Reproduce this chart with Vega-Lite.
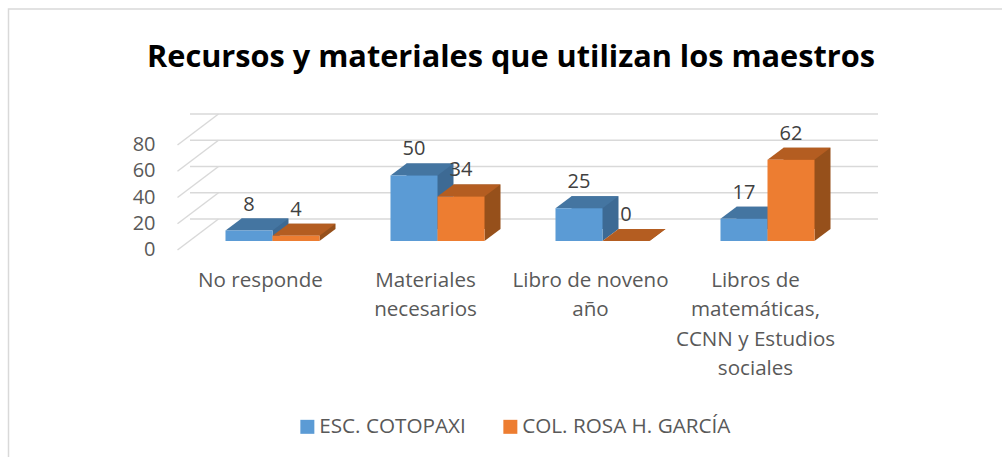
{"$schema":"https://vega.github.io/schema/vega-lite/v6.json","width":660,"height":105,"autosize":"none","padding":{"left":190,"top":136,"right":152,"bottom":216},"background":"white","config":{"font":"Open Sans","view":{"stroke":null},"axis":{"labelOverlap":false}},"title":{"text":"Recursos y materiales que utilizan los maestros","font":"Open Sans","fontSize":30.7,"fontWeight":"bold","color":"#000000","anchor":"middle","dx":-9,"offset":-68},"resolve":{"scale":{"xOffset":"independent"}},"datasets":{"valores":[{"categoria":"No responde","serie":"ESC. COTOPAXI","valor":8},{"categoria":"No responde","serie":"COL. ROSA H. GARCÍA","valor":4},{"categoria":"Materiales necesarios","serie":"ESC. COTOPAXI","valor":50},{"categoria":"Materiales necesarios","serie":"COL. ROSA H. GARCÍA","valor":34},{"categoria":"Libro de noveno año","serie":"ESC. COTOPAXI","valor":25},{"categoria":"Libro de noveno año","serie":"COL. ROSA H. GARCÍA","valor":0},{"categoria":"Libros de matemáticas, CCNN y Estudios sociales","serie":"ESC. COTOPAXI","valor":17},{"categoria":"Libros de matemáticas, CCNN y Estudios sociales","serie":"COL. ROSA H. GARCÍA","valor":62}],"marcas":[{"valor":0},{"valor":20},{"valor":40},{"valor":60},{"valor":80}],"marco":[{"valor":0}]},"data":{"name":"valores"},"layer":[{"data":{"name":"marco"},"mark":{"type":"point","shape":"M-264 216 L-264 -232 L730 -232","size":4,"fill":null,"filled":false,"stroke":"#d9d9d9","strokeWidth":1.5,"opacity":1},"encoding":{"x":{"datum":"No responde","type":"nominal"},"y":{"field":"valor","type":"quantitative","scale":{"domain":[0,80],"nice":false},"axis":null}}},{"data":{"name":"marcas"},"mark":{"type":"rule","stroke":"#d9d9d9","strokeWidth":1.5,"xOffset":28,"yOffset":-22},"encoding":{"y":{"field":"valor","type":"quantitative","axis":null}}},{"data":{"name":"marcas"},"mark":{"type":"point","shape":"M-95 9 L-54 -22","size":4,"filled":false,"stroke":"#d9d9d9","strokeWidth":1.5,"opacity":1},"encoding":{"x":{"datum":"No responde","type":"nominal"},"y":{"field":"valor","type":"quantitative","axis":null}}},{"data":{"name":"marcas"},"mark":{"type":"text","fontSize":20,"color":"#595959","align":"right","baseline":"middle","dx":-117,"dy":9,"font":"Open Sans"},"encoding":{"x":{"datum":"No responde","type":"nominal"},"y":{"field":"valor","type":"quantitative","axis":null},"text":{"field":"valor","type":"quantitative"}}},{"transform":[{"filter":"datum.serie==='ESC. COTOPAXI'"}],"mark":{"type":"bar","fill":"#3d6a94","yOffset":-12},"encoding":{"x":{"field":"categoria","type":"nominal","sort":null,"scale":{"type":"band","paddingInner":0,"paddingOuter":0},"axis":{"title":null,"domain":false,"ticks":false,"grid":false,"labelAngle":0,"labelAlign":"center","labelBaseline":"middle","labelFontSize":20.6,"labelColor":"#595959","labelPadding":39,"labelOffset":-12,"labelLineHeight":29.5,"labelOverlap":false,"labelBound":false,"labelLimit":0,"labelFont":"Open Sans","labelExpr":"datum.value==='Materiales necesarios'?['Materiales','necesarios']:datum.value==='Libro de noveno año'?['Libro de noveno','año']:datum.value==='No responde'?'No responde':['Libros de','matemáticas,','CCNN y Estudios','sociales']"}},"xOffset":{"field":"serie","sort":null,"scale":{"type":"band","domain":["ESC. COTOPAXI","COL. ROSA H. GARCÍA"],"paddingInner":0,"paddingOuter":0.755,"range":[16,181]}},"y":{"field":"valor","type":"quantitative","axis":null}}},{"transform":[{"filter":"datum.serie==='ESC. COTOPAXI'"}],"mark":{"type":"point","shape":"M23.5 0 L23.5 -12 L39.5 -12 Z","size":4,"filled":true,"fill":"#3d6a94","stroke":null,"opacity":1},"encoding":{"x":{"field":"categoria","type":"nominal","sort":null},"xOffset":{"field":"serie","sort":null,"scale":{"type":"band","domain":["ESC. COTOPAXI","COL. ROSA H. GARCÍA"],"paddingInner":0,"paddingOuter":0.755}},"y":{"datum":0,"type":"quantitative","axis":null}}},{"transform":[{"filter":"datum.serie==='ESC. COTOPAXI'"}],"mark":{"type":"point","shape":"M-23.5 0 L-7.5 -12 L39.5 -12 L23.5 0 Z","size":4,"filled":true,"fill":"#4475a1","stroke":null,"opacity":1},"encoding":{"x":{"field":"categoria","type":"nominal","sort":null},"xOffset":{"field":"serie","sort":null,"scale":{"type":"band","domain":["ESC. COTOPAXI","COL. ROSA H. GARCÍA"],"paddingInner":0,"paddingOuter":0.755}},"y":{"field":"valor","type":"quantitative","axis":null}}},{"transform":[{"filter":"datum.serie==='ESC. COTOPAXI'"}],"mark":{"type":"bar"},"encoding":{"x":{"field":"categoria","type":"nominal","sort":null},"xOffset":{"field":"serie","sort":null,"scale":{"type":"band","domain":["ESC. COTOPAXI","COL. ROSA H. GARCÍA"],"paddingInner":0,"paddingOuter":0.755}},"y":{"field":"valor","type":"quantitative","axis":null},"color":{"field":"serie","type":"nominal","sort":null,"scale":{"domain":["ESC. COTOPAXI","COL. ROSA H. GARCÍA"],"range":["#5b9bd5","#ed7d31"]},"legend":{"title":null,"orient":"none","legendX":107,"legendY":280,"direction":"horizontal","columns":2,"symbolType":"square","symbolSize":196,"symbolStrokeWidth":0,"labelFontSize":20.7,"labelColor":"#595959","labelFont":"Open Sans","columnPadding":34,"padding":0,"labelLimit":0,"labelOffset":1.5}}}},{"transform":[{"filter":"datum.serie==='COL. ROSA H. GARCÍA'"}],"mark":{"type":"bar","fill":"#96501b","yOffset":-12},"encoding":{"x":{"field":"categoria","type":"nominal","sort":null},"xOffset":{"field":"serie","sort":null,"scale":{"type":"band","domain":["ESC. COTOPAXI","COL. ROSA H. GARCÍA"],"paddingInner":0,"paddingOuter":0.755,"range":[16,181]}},"y":{"field":"valor","type":"quantitative","axis":null}}},{"transform":[{"filter":"datum.serie==='COL. ROSA H. GARCÍA'"}],"mark":{"type":"point","shape":"M23.5 0 L23.5 -12 L39.5 -12 Z","size":4,"filled":true,"fill":"#96501b","stroke":null,"opacity":1},"encoding":{"x":{"field":"categoria","type":"nominal","sort":null},"xOffset":{"field":"serie","sort":null,"scale":{"type":"band","domain":["ESC. COTOPAXI","COL. ROSA H. GARCÍA"],"paddingInner":0,"paddingOuter":0.755}},"y":{"datum":0,"type":"quantitative","axis":null}}},{"transform":[{"filter":"datum.serie==='COL. ROSA H. GARCÍA'"}],"mark":{"type":"point","shape":"M-23.5 0 L-7.5 -12 L39.5 -12 L23.5 0 Z","size":4,"filled":true,"fill":"#b45d21","stroke":null,"opacity":1},"encoding":{"x":{"field":"categoria","type":"nominal","sort":null},"xOffset":{"field":"serie","sort":null,"scale":{"type":"band","domain":["ESC. COTOPAXI","COL. ROSA H. GARCÍA"],"paddingInner":0,"paddingOuter":0.755}},"y":{"field":"valor","type":"quantitative","axis":null}}},{"transform":[{"filter":"datum.serie==='COL. ROSA H. GARCÍA'"}],"mark":{"type":"bar"},"encoding":{"x":{"field":"categoria","type":"nominal","sort":null},"xOffset":{"field":"serie","sort":null,"scale":{"type":"band","domain":["ESC. COTOPAXI","COL. ROSA H. GARCÍA"],"paddingInner":0,"paddingOuter":0.755}},"y":{"field":"valor","type":"quantitative","axis":null},"color":{"field":"serie","type":"nominal","sort":null}}},{"mark":{"type":"text","fontSize":20,"color":"#404040","baseline":"middle","align":"center","dy":-26,"font":"Open Sans"},"encoding":{"x":{"field":"categoria","type":"nominal","sort":null},"xOffset":{"field":"serie","sort":null,"scale":{"type":"band","domain":["ESC. COTOPAXI","COL. ROSA H. GARCÍA"],"paddingInner":0,"paddingOuter":0.755}},"y":{"field":"valor","type":"quantitative","axis":null},"text":{"field":"valor","type":"quantitative"}}}]}
